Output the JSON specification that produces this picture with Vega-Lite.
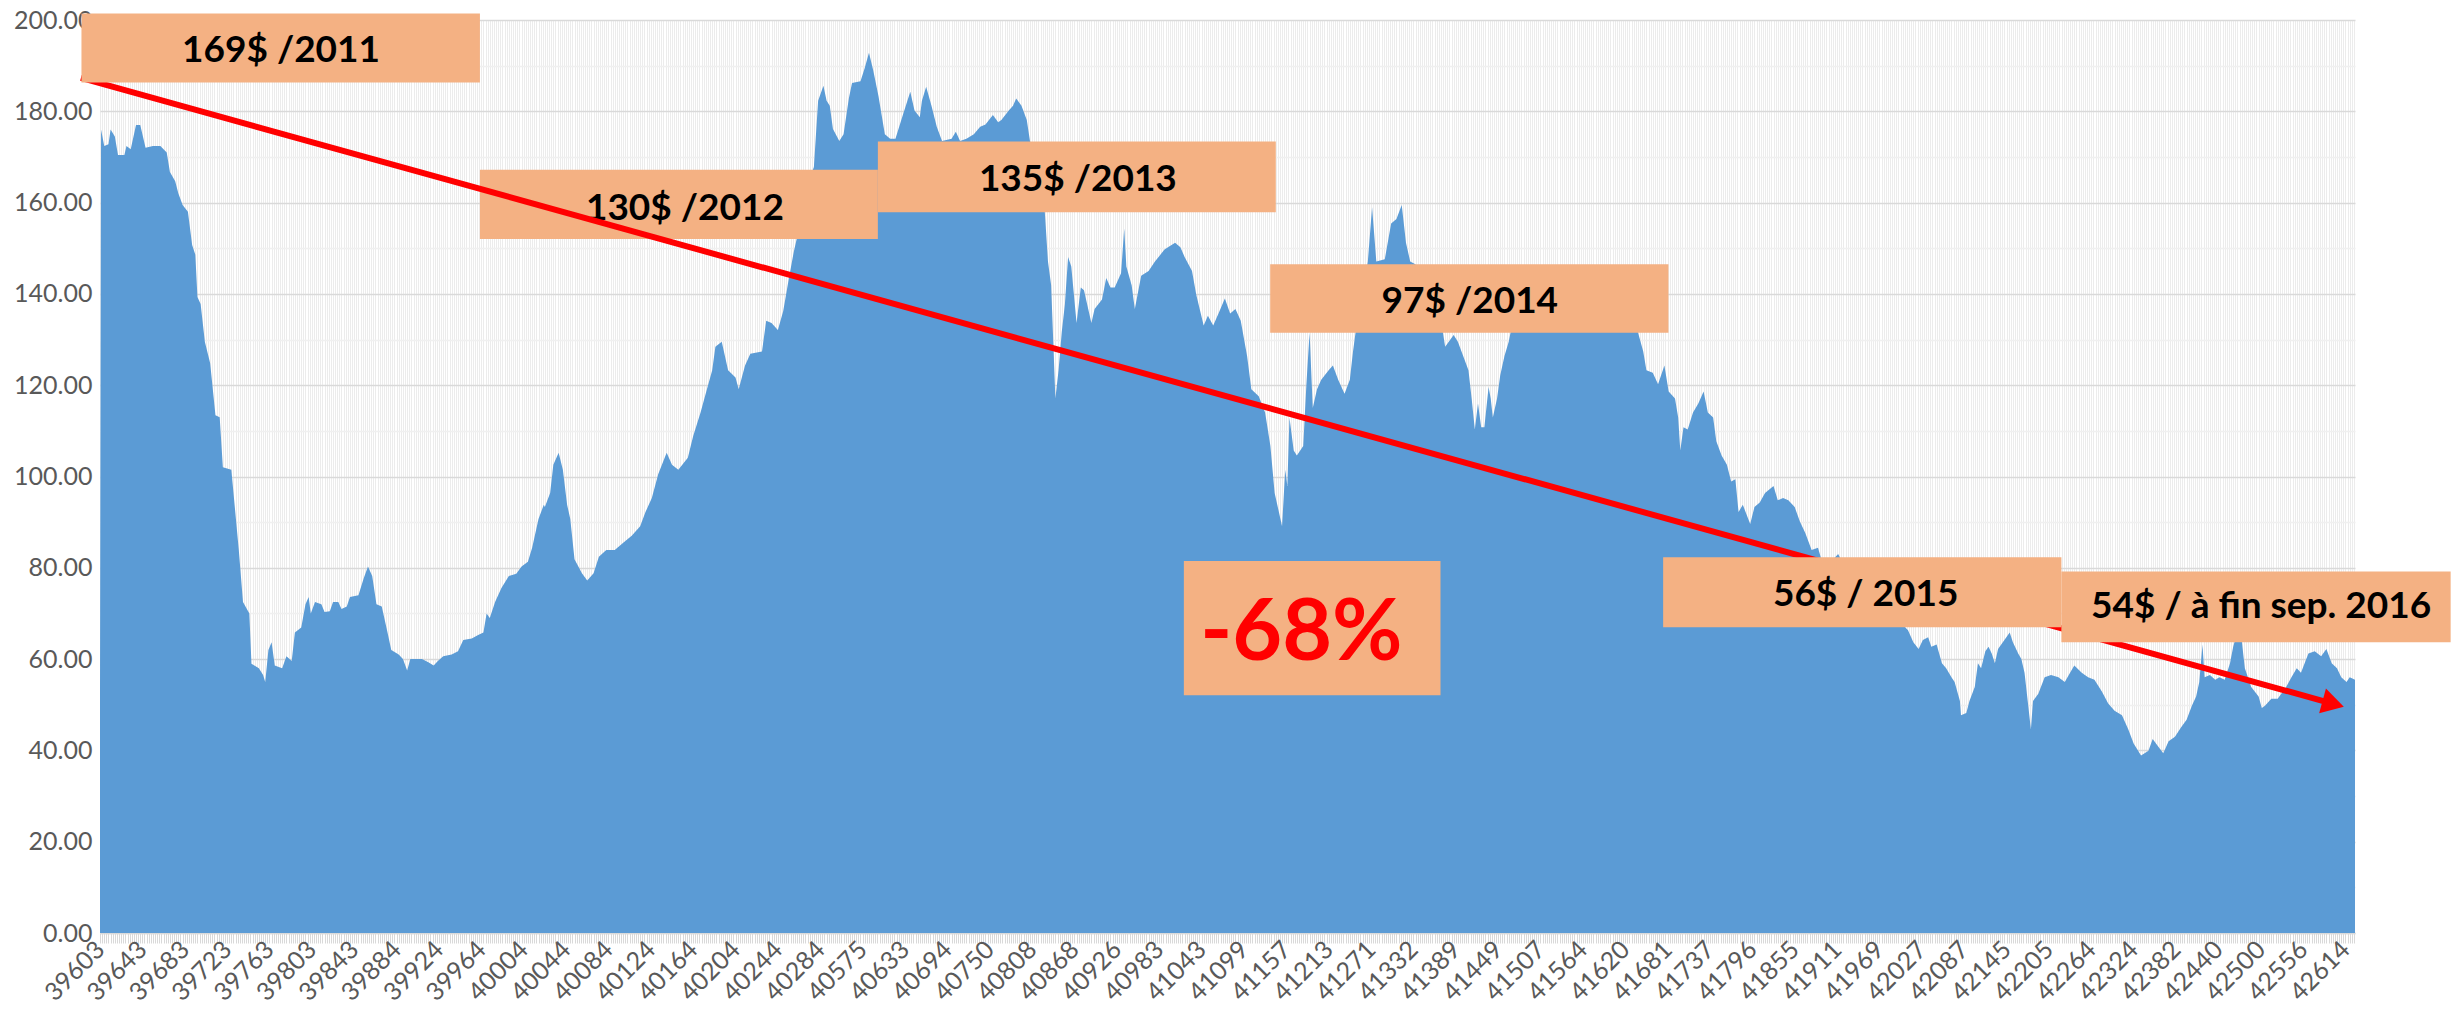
{
  "$schema": "https://vega.github.io/schema/vega-lite/v6.json",
  "width": 2255,
  "height": 913,
  "autosize": "none",
  "padding": {"left": 100, "top": 20, "right": 96, "bottom": 85},
  "background": "white",
  "config": {
    "view": {"stroke": null},
    "font": "Lato"
  },
  "datasets": {
    "price": [
      {"i":0,"v":53},{"i":1,"v":176},{"i":4,"v":172.4},{"i":8,"v":172.8},{"i":10,"v":176},{"i":14,"v":174.5},{"i":17,"v":170.4},{"i":23,"v":170.4},{"i":25,"v":172.4},{"i":29,"v":171.7},{"i":34,"v":177},{"i":38,"v":177},{"i":43,"v":172},{"i":50,"v":172.4},{"i":57,"v":172.4},{"i":63,"v":171},{"i":66,"v":166.7},{"i":71,"v":164.7},{"i":74,"v":162},{"i":78,"v":159.5},{"i":83,"v":158},{"i":87,"v":150.7},{"i":90,"v":148.6},{"i":92,"v":139.3},{"i":95,"v":137.8},{"i":99,"v":129.5},{"i":104,"v":124.8},{"i":109,"v":113.4},{"i":113,"v":113},{"i":116,"v":102},{"i":124,"v":101.5},{"i":131,"v":84},{"i":135,"v":72.5},{"i":141,"v":70},{"i":143,"v":59},{"i":150,"v":58},{"i":154,"v":56.5},{"i":156,"v":55},{"i":159,"v":62},{"i":162,"v":63.7},{"i":165,"v":58.6},{"i":172,"v":58},{"i":176,"v":60.6},{"i":181,"v":59.6},{"i":184,"v":65.8},{"i":190,"v":66.9},{"i":194,"v":72},{"i":197,"v":73.6},{"i":199,"v":70},{"i":203,"v":72.5},{"i":209,"v":72},{"i":212,"v":70.3},{"i":217,"v":70.5},{"i":220,"v":72.5},{"i":225,"v":72.5},{"i":228,"v":71},{"i":233,"v":71.5},{"i":236,"v":73.6},{"i":244,"v":74},{"i":249,"v":77.7},{"i":253,"v":80.3},{"i":257,"v":78.2},{"i":261,"v":72},{"i":266,"v":71.5},{"i":271,"v":66.3},{"i":275,"v":62},{"i":282,"v":61},{"i":286,"v":60},{"i":290,"v":57.5},{"i":293,"v":60},{"i":297,"v":60},{"i":304,"v":60},{"i":310,"v":59.3},{"i":315,"v":58.6},{"i":319,"v":59.6},{"i":324,"v":60.6},{"i":332,"v":61},{"i":338,"v":61.7},{"i":343,"v":64.2},{"i":351,"v":64.5},{"i":357,"v":65.3},{"i":362,"v":65.8},{"i":365,"v":70},{"i":368,"v":69},{"i":373,"v":72.5},{"i":379,"v":75.6},{"i":386,"v":78.2},{"i":393,"v":78.7},{"i":398,"v":80.3},{"i":404,"v":81.3},{"i":408,"v":84.4},{"i":414,"v":90.7},{"i":419,"v":93.8},
      {"i":420,"v":93.3},{"i":425,"v":96.4},{"i":428,"v":102.6},{"i":433,"v":105.2},{"i":437,"v":101.5},{"i":441,"v":93.8},{"i":444,"v":90.7},{"i":448,"v":81.9},{"i":455,"v":78.8},{"i":460,"v":77.2},{"i":466,"v":78.8},{"i":471,"v":82.4},{"i":478,"v":83.9},{"i":486,"v":83.9},{"i":494,"v":85.5},{"i":502,"v":87},{"i":510,"v":89.1},{"i":515,"v":92.2},{"i":521,"v":95.3},{"i":527,"v":100.5},{"i":535,"v":105.2},{"i":540,"v":102.6},{"i":546,"v":101.5},{"i":555,"v":104.1},{"i":560,"v":108.8},{"i":567,"v":114},{"i":573,"v":119.1},{"i":578,"v":123.3},{"i":581,"v":128.4},{"i":587,"v":129.5},{"i":593,"v":123.3},{"i":600,"v":121.7},{"i":603,"v":119.1},{"i":609,"v":124.3},{"i":614,"v":126.9},{"i":625,"v":127.4},{"i":629,"v":134.1},{"i":634,"v":133.6},{"i":640,"v":132.1},{"i":645,"v":136.2},{"i":650,"v":142.9},{"i":655,"v":149.2},{"i":662,"v":156.4},{"i":669,"v":164.7},{"i":674,"v":167.8},{"i":678,"v":182.3},{"i":683,"v":185.6},{"i":686,"v":182.3},{"i":689,"v":181.2},{"i":692,"v":176.1},{"i":698,"v":173.5},{"i":702,"v":175},{"i":707,"v":182.8},{"i":710,"v":186.2},{"i":718,"v":186.6},{"i":722,"v":189.5},{"i":726,"v":192.8},{"i":730,"v":189},{"i":735,"v":183.3},{"i":741,"v":175},{"i":746,"v":174},{"i":751,"v":174},{"i":758,"v":179.2},{"i":765,"v":184.3},{"i":769,"v":180.2},{"i":774,"v":178.7},{"i":776,"v":182.3},{"i":780,"v":185.4},{"i":785,"v":181.2},{"i":790,"v":176.6},{"i":795,"v":173.5},{"i":804,"v":174},{"i":808,"v":175.5},{"i":812,"v":173.5},{"i":818,"v":174},{"i":825,"v":175},{"i":831,"v":176.6},{"i":836,"v":177.1},{"i":843,"v":179.2},{"i":848,"v":177.6},
      {"i":851,"v":178.1},{"i":858,"v":180.2},{"i":862,"v":181.2},{"i":865,"v":182.8},{"i":870,"v":181.2},{"i":875,"v":178.1},{"i":878,"v":173.5},{"i":886,"v":168},{"i":892,"v":158},{"i":895,"v":147.1},{"i":898,"v":141.9},{"i":900,"v":129.5},{"i":902,"v":117.1},{"i":905,"v":123.3},{"i":908,"v":131.6},{"i":911,"v":137.8},{"i":914,"v":148.1},{"i":917,"v":146},{"i":922,"v":133.6},{"i":926,"v":141.4},{"i":929,"v":140.8},{"i":933,"v":136.7},{"i":936,"v":133.6},{"i":939,"v":136.7},{"i":946,"v":138.8},{"i":950,"v":143.5},{"i":954,"v":141.4},{"i":958,"v":141.4},{"i":964,"v":144.5},{"i":967,"v":154.3},{"i":969,"v":146},{"i":974,"v":141.9},{"i":977,"v":136.7},{"i":983,"v":144},{"i":990,"v":145},{"i":996,"v":147.1},{"i":1005,"v":149.7},{"i":1015,"v":151.2},{"i":1020,"v":150.2},{"i":1024,"v":148.1},{"i":1031,"v":145},{"i":1035,"v":139.8},{"i":1042,"v":133.1},{"i":1046,"v":135.2},{"i":1051,"v":133.1},{"i":1056,"v":135.7},{"i":1062,"v":139},{"i":1067,"v":135.7},{"i":1072,"v":136.7},{"i":1077,"v":134.1},{"i":1083,"v":126.4},{"i":1087,"v":119.1},{"i":1094,"v":117.6},{"i":1100,"v":114},{"i":1105,"v":106.7},{"i":1109,"v":96.4},{"i":1116,"v":89.1},{"i":1119,"v":101.5},{"i":1121,"v":97.9},{"i":1123,"v":112.9},{"i":1127,"v":105.7},{"i":1130,"v":104.6},{"i":1136,"v":106.7},{"i":1139,"v":120.2},{"i":1142,"v":131.6},{"i":1145,"v":115},{"i":1149,"v":119.1},{"i":1153,"v":121.2},{"i":1160,"v":123.3},{"i":1164,"v":124.3},{"i":1169,"v":121.2},{"i":1175,"v":118.1},{"i":1180,"v":121.2},{"i":1183,"v":127.4},{"i":1186,"v":132.6},{"i":1192,"v":140},{"i":1197,"v":147.1},{"i":1201,"v":159},{"i":1205,"v":147.1},{"i":1213,"v":147.6},{"i":1219,"v":155.4},{"i":1224,"v":156.4},{"i":1229,"v":159.5},{"i":1233,"v":151.2},{"i":1237,"v":147.1},{"i":1241,"v":146.6},{"i":1250,"v":145},{"i":1262,"v":140},{"i":1270,"v":128.4},
      {"i":1278,"v":131},{"i":1282,"v":129.5},{"i":1287,"v":126.4},{"i":1292,"v":123.3},{"i":1295,"v":117.1},{"i":1298,"v":110.3},{"i":1301,"v":116},{"i":1304,"v":110.8},{"i":1307,"v":110.8},{"i":1311,"v":119.6},{"i":1313,"v":117.1},{"i":1315,"v":112.9},{"i":1319,"v":117.1},{"i":1322,"v":122.2},{"i":1326,"v":126.4},{"i":1330,"v":129.5},{"i":1333,"v":133},{"i":1340,"v":135},{"i":1348,"v":136},{"i":1356,"v":138},{"i":1365,"v":137},{"i":1374,"v":139},{"i":1382,"v":136},{"i":1392,"v":138},{"i":1402,"v":136},{"i":1412,"v":139},{"i":1420,"v":137},{"i":1428,"v":138},{"i":1440,"v":135},{"i":1452,"v":131.6},{"i":1457,"v":127.4},{"i":1460,"v":123.3},{"i":1466,"v":122.7},{"i":1471,"v":120.2},{"i":1477,"v":124.3},{"i":1481,"v":118.6},{"i":1487,"v":117.1},{"i":1490,"v":112.9},{"i":1492,"v":105.7},{"i":1495,"v":110.8},{"i":1499,"v":110.3},{"i":1504,"v":114},{"i":1509,"v":116},{"i":1514,"v":118.6},{"i":1518,"v":114},{"i":1523,"v":112.9},{"i":1526,"v":107.7},{"i":1531,"v":104.6},{"i":1536,"v":102.6},{"i":1540,"v":98.9},{"i":1544,"v":99.4},{"i":1547,"v":92.2},{"i":1551,"v":93.8},{"i":1558,"v":89.6},{"i":1562,"v":93.3},{"i":1567,"v":94.3},{"i":1572,"v":96.4},{"i":1580,"v":97.9},{"i":1584,"v":94.8},{"i":1589,"v":95.3},{"i":1594,"v":94.8},{"i":1600,"v":93.3},{"i":1605,"v":90.1},{"i":1610,"v":87.6},{"i":1616,"v":83.9},{"i":1622,"v":84.4},{"i":1625,"v":82},{"i":1633,"v":81},{"i":1641,"v":83},{"i":1650,"v":79},{"i":1660,"v":77},{"i":1670,"v":76},{"i":1680,"v":73},{"i":1690,"v":71},{"i":1700,"v":68},
      {"i":1707,"v":66.3},{"i":1712,"v":63.7},{"i":1717,"v":62.2},{"i":1721,"v":64.2},{"i":1726,"v":64.8},{"i":1729,"v":62.7},{"i":1734,"v":63.2},{"i":1739,"v":59.1},{"i":1743,"v":58},{"i":1748,"v":56},{"i":1751,"v":55},{"i":1756,"v":50.8},{"i":1757,"v":47.7},{"i":1762,"v":48.2},{"i":1765,"v":50.8},{"i":1770,"v":53.9},{"i":1773,"v":59.1},{"i":1776,"v":58},{"i":1780,"v":61.7},{"i":1783,"v":62.7},{"i":1786,"v":61.2},{"i":1789,"v":59.1},{"i":1792,"v":62.2},{"i":1795,"v":63.2},{"i":1798,"v":64.2},{"i":1803,"v":65.8},{"i":1806,"v":63.7},{"i":1811,"v":61.2},{"i":1814,"v":60},{"i":1817,"v":57},{"i":1820,"v":50.8},{"i":1823,"v":44.6},{"i":1825,"v":50.8},{"i":1830,"v":52.4},{"i":1836,"v":56},{"i":1842,"v":56.5},{"i":1849,"v":56},{"i":1855,"v":55},{"i":1860,"v":57},{"i":1864,"v":58.6},{"i":1871,"v":57},{"i":1877,"v":56},{"i":1883,"v":55.5},{"i":1890,"v":52.9},{"i":1896,"v":50.3},{"i":1902,"v":48.7},{"i":1909,"v":47.7},{"i":1915,"v":44.6},{"i":1920,"v":41.5},{"i":1927,"v":38.9},{"i":1934,"v":39.9},{"i":1938,"v":42.5},{"i":1943,"v":40.9},{"i":1948,"v":39.4},{"i":1953,"v":42},{"i":1959,"v":43},{"i":1965,"v":45.1},{"i":1970,"v":46.7},{"i":1975,"v":49.8},{"i":1979,"v":51.8},{"i":1982,"v":55},{"i":1985,"v":63.2},{"i":1987,"v":56},{"i":1992,"v":56.5},{"i":1997,"v":55.5},{"i":2001,"v":56},{"i":2006,"v":55.5},{"i":2011,"v":59.1},{"i":2014,"v":62.7},{"i":2018,"v":66},{"i":2022,"v":64.2},{"i":2025,"v":58},{"i":2031,"v":53.9},{"i":2038,"v":51.8},{"i":2041,"v":49.3},{"i":2044,"v":49.8},{"i":2050,"v":51.3},{"i":2056,"v":51.3},{"i":2064,"v":53.9},{"i":2069,"v":56},{"i":2074,"v":58},{"i":2078,"v":57},{"i":2085,"v":61.2},{"i":2091,"v":61.7},{"i":2097,"v":60.6},{"i":2102,"v":62.2},{"i":2107,"v":59.1},{"i":2112,"v":58},{"i":2116,"v":56},{"i":2121,"v":55},{"i":2124,"v":56},{"i":2129,"v":55.5}
    ],
    "boxes": [
      {"id":1,"x1":-17.5,"x2":358.7,"y1":186.3,"y2":201.4,"label":"169$ /2011","tx":170.9,"ty":193.2},
      {"id":2,"x1":358.7,"x2":734.4,"y1":152.0,"y2":167.2,"label":"130$ /2012","tx":552.2,"ty":158.7},
      {"id":3,"x1":734.4,"x2":1110.1,"y1":157.9,"y2":173.4,"label":"135$ /2013","tx":923.2,"ty":164.9},
      {"id":4,"x1":1104.8,"x2":1480.8,"y1":131.5,"y2":146.5,"label":"97$ /2014","tx":1293.3,"ty":138.2},
      {"id":5,"x1":1023.3,"x2":1265.6,"y1":52.1,"y2":81.5,"label":"-68%","tx":1134.2,"ty":65.5},
      {"id":6,"x1":1475.8,"x2":1851.8,"y1":67.0,"y2":82.3,"label":"56$ / 2015","tx":1667,"ty":74.0},
      {"id":7,"x1":1851.8,"x2":2219.3,"y1":63.7,"y2":79.2,"label":"54$ / à fin sep. 2016","tx":2040.4,"ty":71.4}
    ],
    "trend": [
      {"i":-18,"v":187.3},
      {"i":2108.4,"v":50.2}
    ],
    "arrow": [
      {"i":2108.4,"v":50.2}
    ]
  },
  "layer": [
    {
      "data": {"name": "price"},
      "mark": {"type": "area", "color": "#5B9BD5", "interpolate": "linear"},
      "encoding": {
        "x": {
          "field": "i", "type": "quantitative",
          "scale": {"domain": [0, 2129], "nice": false, "zero": false},
          "axis": {
            "title": null,
            "tickCount": 1065,
            "grid": true, "gridColor": "#ECECEC", "gridWidth": 1,
            "ticks": true, "tickColor": "#D9D9D9", "tickSize": 10, "tickWidth": 1,
            "domain": true, "domainColor": "#D9D9D9", "domainWidth": 1.5,
            "labelAngle": -45, "labelAlign": "right", "labelBaseline": "middle",
            "labelOverlap": false, "labelFlush": false, "labelBound": false,
            "labelFont": "Lato", "labelFontSize": 25, "labelColor": "#595959", "labelPadding": 2,
            "labelExpr": "datum.value % 40 === 0 ? ['39603','39643','39683','39723','39763','39803','39843','39884','39924','39964','40004','40044','40084','40124','40164','40204','40244','40284','40575','40633','40694','40750','40808','40868','40926','40983','41043','41099','41157','41213','41271','41332','41389','41449','41507','41564','41620','41681','41737','41796','41855','41911','41969','42027','42087','42145','42205','42264','42324','42382','42440','42500','42556','42614'][datum.value / 40] : ''"
          }
        },
        "y": {
          "field": "v", "type": "quantitative",
          "scale": {"domain": [0, 200], "nice": false, "zero": true},
          "axis": {
            "title": null,
            "values": [0,10,20,30,40,50,60,70,80,90,100,110,120,130,140,150,160,170,180,190,200],
            "grid": true,
            "gridColor": {"condition": {"test": "datum.value % 20 === 0", "value": "#D9D9D9"}, "value": "#F0F0F0"},
            "gridWidth": 1.5,
            "ticks": false, "domain": false,
            "labelFont": "Lato", "labelFontSize": 25, "labelColor": "#595959", "labelPadding": 8,
            "labelExpr": "datum.value % 20 === 0 ? format(datum.value, '.2f') : ''"
          }
        }
      }
    },
    {
      "data": {"name": "boxes"},
      "transform": [{"filter": "datum.id === 2"}],
      "mark": {"type": "rect", "color": "#F4B183"},
      "encoding": {
        "x": {"field": "x1", "type": "quantitative"},
        "x2": {"field": "x2"},
        "y": {"field": "y1", "type": "quantitative"},
        "y2": {"field": "y2"}
      }
    },
    {
      "data": {"name": "boxes"},
      "transform": [{"filter": "datum.id === 2"}],
      "mark": {"type": "text", "font": "Lato", "fontWeight": "bold", "fontSize": 37, "color": "black", "align": "center", "baseline": "middle"},
      "encoding": {
        "x": {"field": "tx", "type": "quantitative"},
        "y": {"field": "ty", "type": "quantitative"},
        "text": {"field": "label"}
      }
    },
    {
      "data": {"name": "trend"},
      "mark": {"type": "line", "color": "#FF0000", "strokeWidth": 6},
      "encoding": {
        "x": {"field": "i", "type": "quantitative"},
        "y": {"field": "v", "type": "quantitative"}
      }
    },
    {
      "data": {"name": "arrow"},
      "mark": {"type": "point", "shape": "triangle-right", "filled": true, "color": "#FF0000", "size": 650, "angle": 15.5, "opacity": 1, "strokeWidth": 0},
      "encoding": {
        "x": {"field": "i", "type": "quantitative"},
        "y": {"field": "v", "type": "quantitative"}
      }
    },
    {
      "data": {"name": "boxes"},
      "transform": [{"filter": "datum.id !== 2"}],
      "mark": {"type": "rect", "color": "#F4B183"},
      "encoding": {
        "x": {"field": "x1", "type": "quantitative"},
        "x2": {"field": "x2"},
        "y": {"field": "y1", "type": "quantitative"},
        "y2": {"field": "y2"}
      }
    },
    {
      "data": {"name": "boxes"},
      "transform": [{"filter": "datum.id !== 2 && datum.id !== 5"}],
      "mark": {"type": "text", "font": "Lato", "fontWeight": "bold", "fontSize": 37, "color": "black", "align": "center", "baseline": "middle"},
      "encoding": {
        "x": {"field": "tx", "type": "quantitative"},
        "y": {"field": "ty", "type": "quantitative"},
        "text": {"field": "label"}
      }
    },
    {
      "data": {"name": "boxes"},
      "transform": [{"filter": "datum.id === 5"}],
      "mark": {"type": "text", "font": "Lato", "fontWeight": "bold", "fontSize": 86, "color": "#FF0000", "align": "center", "baseline": "middle"},
      "encoding": {
        "x": {"field": "tx", "type": "quantitative"},
        "y": {"field": "ty", "type": "quantitative"},
        "text": {"field": "label"}
      }
    }
  ]
}
